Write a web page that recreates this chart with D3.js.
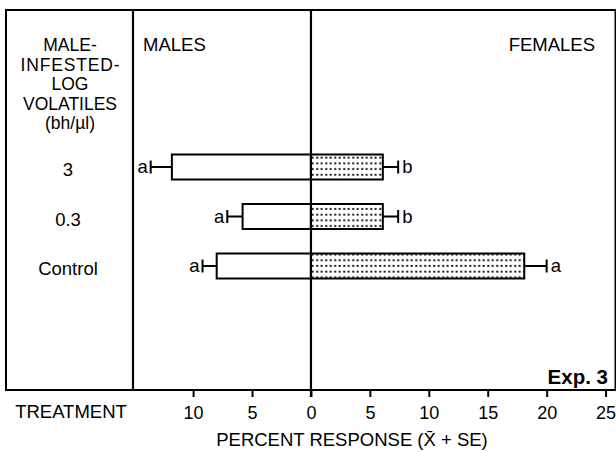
<!DOCTYPE html>
<html>
<head>
<meta charset="utf-8">
<script src="https://cdn.jsdelivr.net/npm/d3@7"></script>
<style>
  html, body { margin: 0; padding: 0; background: #fff; }
  svg { display: block; font-family: "Liberation Sans", Arial, Helvetica, sans-serif; }
</style>
</head>
<body>
<svg id="chart" width="616" height="452"></svg>
<script>
// Treatment rows (male-infested-log volatiles, bh/µl)
const treatments = ["3", "0.3", "Control"];
// Percent response: means and standard errors
const maleMeans = [11.8, 5.8, 8.0];
const maleSE = [1.8, 1.3, 1.2];
const femaleMeans = [6.1, 6.1, 18.1];
const femaleSE = [1.3, 1.3, 1.9];
// Mean separation letters
const maleLetters = ["a", "a", "a"];
const femaleLetters = ["b", "b", "a"];
// Axis ticks (male side shown as positive values)
const tickValues = [-10, -5, 0, 5, 10, 15, 20, 25];
const headerLines = ["MALE-", "INFESTED-", "LOG", "VOLATILES", "(bh/\u00b5l)"];

const svg = d3.select("#chart");
const frame = { left: 6, top: 10, divider: 133, right: 615.5, bottom: 390 };

const x = d3.scaleLinear().domain([-15.1, 25.8]).range([frame.divider, 615]);
const y = d3.scalePoint().domain(treatments).range([167, 266]);
const barH = 25;

// dotted fill for the female bars
const defs = svg.append("defs");
const pat = defs.append("pattern")
  .attr("id", "dots")
  .attr("patternUnits", "userSpaceOnUse")
  .attr("width", 4.5).attr("height", 5.7)
  .attr("y", 1);
pat.append("rect").attr("width", 4.5).attr("height", 5.7).attr("fill", "#fff");
pat.append("circle").attr("cx", 2.2).attr("cy", 2.8).attr("r", 1.1).attr("fill", "#000");

// outer frame and column divider
const g = svg.append("g").attr("stroke", "#000").attr("fill", "none");
g.append("rect")
  .attr("x", frame.left).attr("y", frame.top)
  .attr("width", frame.right - frame.left).attr("height", frame.bottom - frame.top)
  .attr("stroke-width", 2);
g.append("line")
  .attr("x1", frame.divider).attr("x2", frame.divider)
  .attr("y1", frame.top).attr("y2", frame.bottom)
  .attr("stroke-width", 2.2);

// bottom axis
const axis = d3.axisBottom(x)
  .tickValues(tickValues)
  .tickFormat(d => Math.abs(d))
  .tickSize(7)
  .tickPadding(9);
const ax = svg.append("g")
  .attr("transform", `translate(0,${frame.bottom})`)
  .call(axis);
ax.select(".domain").remove();
ax.selectAll(".tick line").attr("stroke", "#000").attr("stroke-width", 2);
ax.selectAll(".tick text")
  .attr("fill", "#000")
  .style("font-size", "18px")
  .style("font-family", "\"Liberation Sans\", Arial, sans-serif");

// header text
const header = svg.append("g").attr("fill", "#000");
header.selectAll("text.hdr")
  .data(headerLines)
  .join("text")
  .attr("class", "hdr")
  .attr("x", 70)
  .attr("y", (d, i) => 51 + i * 19.5)
  .attr("text-anchor", "middle")
  .style("font-size", "17.5px")
  .attr("textLength", d => d === "INFESTED-" ? 99 : null)
  .text(d => d);
header.append("text").attr("x", 143).attr("y", 51).style("font-size", "18.5px").text("MALES");
header.append("text").attr("x", 595).attr("y", 51).attr("text-anchor", "end").style("font-size", "18.5px").text("FEMALES");

// treatment labels
svg.append("g").selectAll("text")
  .data(treatments)
  .join("text")
  .attr("x", 68)
  .attr("y", d => y(d) + 9)
  .attr("text-anchor", "middle")
  .style("font-size", "18.5px")
  .text(d => d);

const rows = treatments.map((t, i) => ({
  t, m: maleMeans[i], mse: maleSE[i], f: femaleMeans[i], fse: femaleSE[i],
  ml: maleLetters[i], fl: femaleLetters[i]
}));

// male bars (extend left of zero)
const bars = svg.append("g");
bars.selectAll("rect.male")
  .data(rows)
  .join("rect")
  .attr("class", "male")
  .attr("x", d => x(-d.m))
  .attr("y", d => y(d.t) - barH / 2)
  .attr("width", d => x(0) - x(-d.m))
  .attr("height", barH)
  .attr("fill", "#fff")
  .attr("stroke", "#000")
  .attr("stroke-width", 2);

// female bars (dotted)
bars.selectAll("rect.female")
  .data(rows)
  .join("rect")
  .attr("class", "female")
  .attr("x", x(0))
  .attr("y", d => y(d.t) - barH / 2)
  .attr("width", d => x(d.f) - x(0))
  .attr("height", barH)
  .attr("fill", "url(#dots)")
  .attr("stroke", "#000")
  .attr("stroke-width", 2);

// error bars
const err = svg.append("g").attr("stroke", "#000").attr("stroke-width", 2);
rows.forEach(d => {
  const cy = y(d.t);
  const mEnd = x(-(d.m + d.mse));
  err.append("line").attr("x1", x(-d.m)).attr("x2", mEnd).attr("y1", cy).attr("y2", cy);
  err.append("line").attr("x1", mEnd).attr("x2", mEnd).attr("y1", cy - 6.5).attr("y2", cy + 6.5);
  const fEnd = x(d.f + d.fse);
  err.append("line").attr("x1", x(d.f)).attr("x2", fEnd).attr("y1", cy).attr("y2", cy);
  err.append("line").attr("x1", fEnd).attr("x2", fEnd).attr("y1", cy - 6.5).attr("y2", cy + 6.5);
});

// significance letters
const letters = svg.append("g").style("font-size", "18.5px").attr("fill", "#000");
letters.selectAll("text.ml")
  .data(rows)
  .join("text")
  .attr("class", "ml")
  .attr("x", d => x(-(d.m + d.mse)) - 3)
  .attr("y", d => y(d.t) + 6)
  .attr("text-anchor", "end")
  .text(d => d.ml);
letters.selectAll("text.fl")
  .data(rows)
  .join("text")
  .attr("class", "fl")
  .attr("x", d => x(d.f + d.fse) + 4)
  .attr("y", d => y(d.t) + 6)
  .text(d => d.fl);

// zero line, running through the axis
svg.append("line")
  .attr("x1", x(0)).attr("x2", x(0))
  .attr("y1", frame.top).attr("y2", frame.bottom + 7)
  .attr("stroke", "#000").attr("stroke-width", 2.2);

// experiment tag
svg.append("text")
  .attr("x", 608).attr("y", 384)
  .attr("text-anchor", "end")
  .style("font-size", "20.5px")
  .style("font-weight", "bold")
  .text("Exp. 3");

// axis titles
svg.append("text")
  .attr("x", 71).attr("y", 418)
  .attr("text-anchor", "middle")
  .style("font-size", "18.5px")
  .text("TREATMENT");

svg.append("text")
  .attr("x", 352).attr("y", 446)
  .attr("text-anchor", "middle")
  .style("font-size", "18.5px")
  .text("PERCENT RESPONSE (X\u0304 + SE)");
</script>
</body>
</html>
